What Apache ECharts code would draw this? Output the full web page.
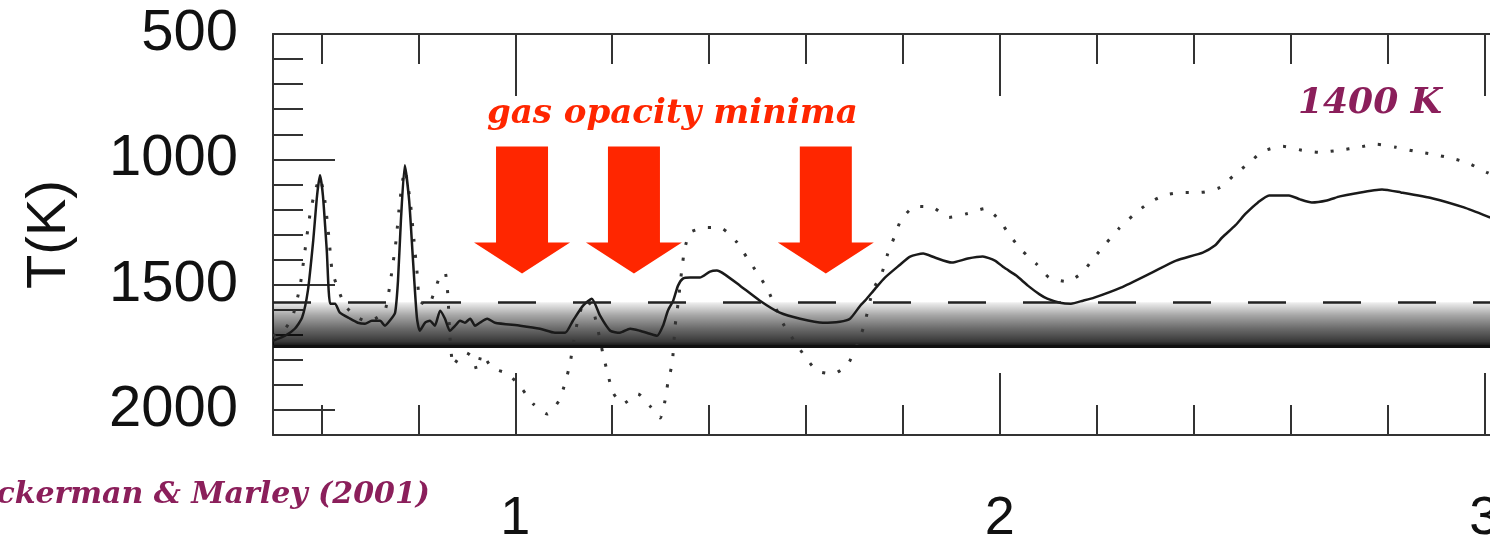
<!DOCTYPE html>
<html>
<head>
<meta charset="utf-8">
<script src="https://cdn.jsdelivr.net/npm/echarts@6/dist/echarts.min.js"></script>
<style>
  html, body { margin: 0; padding: 0; background: #fff; }
  #chart { width: 1490px; height: 539px; }
</style>
</head>
<body>
<div id="chart"></div>
<script>
// wavelength (micron) and temperature (K)
var solidX = [0.5, 0.525, 0.545, 0.56, 0.572, 0.583, 0.591, 0.597, 0.603, 0.611, 0.618, 0.628, 0.638, 0.659, 0.675, 0.69, 0.704, 0.721, 0.731, 0.741, 0.752, 0.758, 0.764, 0.772, 0.781, 0.789, 0.797, 0.803, 0.814, 0.824, 0.834, 0.845, 0.855, 0.865, 0.876, 0.886, 0.896, 0.907, 0.917, 0.927, 0.942, 0.958, 1.01, 1.051, 1.082, 1.103, 1.119, 1.14, 1.158, 1.175, 1.196, 1.216, 1.237, 1.257, 1.278, 1.293, 1.305, 1.315, 1.326, 1.336, 1.346, 1.361, 1.381, 1.402, 1.416, 1.433, 1.464, 1.505, 1.546, 1.588, 1.635, 1.67, 1.691, 1.712, 1.722, 1.743, 1.763, 1.792, 1.815, 1.842, 1.866, 1.901, 1.934, 1.965, 1.99, 2.009, 2.034, 2.058, 2.083, 2.098, 2.124, 2.147, 2.172, 2.195, 2.25, 2.314, 2.364, 2.419, 2.444, 2.459, 2.486, 2.508, 2.533, 2.556, 2.597, 2.62, 2.644, 2.675, 2.702, 2.733, 2.789, 2.828, 2.894, 2.958, 3.012, 3.053];
var solidT = [1724, 1704, 1676, 1632, 1524, 1324, 1144, 1064, 1144, 1364, 1576, 1576, 1612, 1636, 1652, 1656, 1644, 1644, 1664, 1644, 1612, 1484, 1244, 1024, 1164, 1404, 1632, 1684, 1652, 1644, 1664, 1604, 1636, 1684, 1664, 1644, 1652, 1636, 1664, 1652, 1636, 1652, 1664, 1676, 1692, 1692, 1644, 1584, 1556, 1624, 1684, 1692, 1676, 1684, 1696, 1704, 1664, 1604, 1564, 1504, 1476, 1472, 1472, 1448, 1444, 1460, 1504, 1564, 1612, 1636, 1652, 1648, 1636, 1584, 1564, 1516, 1472, 1424, 1388, 1376, 1392, 1412, 1396, 1388, 1404, 1432, 1464, 1504, 1540, 1556, 1572, 1576, 1564, 1552, 1512, 1452, 1404, 1372, 1344, 1312, 1264, 1216, 1172, 1144, 1144, 1160, 1172, 1164, 1148, 1136, 1120, 1132, 1156, 1192, 1232, 1264];

var dottedX = [0.5, 0.525, 0.541, 0.556, 0.566, 0.576, 0.587, 0.597, 0.607, 0.616, 0.622, 0.634, 0.649, 0.669, 0.69, 0.711, 0.731, 0.741, 0.754, 0.762, 0.772, 0.783, 0.791, 0.797, 0.803, 0.82, 0.834, 0.845, 0.855, 0.861, 0.865, 0.872, 0.882, 0.898, 0.913, 0.921, 0.931, 0.952, 0.985, 1.014, 1.037, 1.066, 1.09, 1.103, 1.113, 1.119, 1.129, 1.144, 1.158, 1.171, 1.181, 1.191, 1.202, 1.222, 1.253, 1.278, 1.299, 1.309, 1.315, 1.324, 1.33, 1.336, 1.344, 1.35, 1.361, 1.396, 1.427, 1.458, 1.478, 1.499, 1.52, 1.553, 1.594, 1.623, 1.656, 1.687, 1.718, 1.738, 1.757, 1.769, 1.782, 1.796, 1.825, 1.862, 1.895, 1.934, 1.97, 1.998, 2.021, 2.046, 2.075, 2.102, 2.139, 2.17, 2.195, 2.219, 2.246, 2.275, 2.306, 2.339, 2.378, 2.415, 2.455, 2.483, 2.516, 2.543, 2.584, 2.624, 2.661, 2.7, 2.741, 2.777, 2.818, 2.857, 2.894, 2.933, 2.968, 3.005, 3.052];
var dottedT = [1704, 1676, 1624, 1504, 1364, 1224, 1124, 1076, 1164, 1324, 1444, 1516, 1584, 1624, 1644, 1636, 1604, 1504, 1324, 1164, 1044, 1164, 1324, 1444, 1564, 1584, 1524, 1464, 1452, 1544, 1704, 1824, 1796, 1772, 1792, 1844, 1776, 1832, 1856, 1916, 1976, 2016, 1964, 1892, 1816, 1744, 1644, 1564, 1584, 1684, 1776, 1856, 1932, 1976, 1936, 1984, 2032, 1964, 1892, 1812, 1664, 1576, 1436, 1356, 1292, 1272, 1276, 1332, 1392, 1452, 1516, 1656, 1776, 1844, 1856, 1816, 1676, 1524, 1452, 1376, 1312, 1244, 1188, 1192, 1232, 1216, 1196, 1240, 1304, 1364, 1416, 1472, 1488, 1452, 1392, 1336, 1276, 1224, 1176, 1144, 1132, 1132, 1112, 1064, 1012, 968, 948, 964, 972, 964, 952, 940, 952, 968, 980, 996, 1016, 1052, 1092];

// condensation curve and cloud band
var condenseT = 1570;
var cloudBaseT = 1745;

// the three gas opacity minima arrows
var arrowX = [1.014, 1.245, 1.641];
var arrowT = 1202;

// axis ticks and labels
var xLabels = [1, 2, 3];
var xMinor = [0.6, 0.8, 1.2, 1.4, 1.6, 1.8, 2.2, 2.4, 2.6, 2.8];
var tLabels = [500, 1000, 1500, 2000];
var tMajor = [1000, 1500, 2000];
var tMinor = [600, 700, 800, 900, 1100, 1200, 1300, 1400, 1600, 1700, 1800, 1900];

var X_MIN = 0.5, X_MAX = 3.05, T_MIN = 500, T_MAX = 2100;

var zip = function (xs, ys) {
    var out = [];
    for (var i = 0; i < xs.length; i++) {
        out.push([xs[i], ys[i]]);
    }
    return out;
};

var plain = function (v) { return String(v); };

var tickColor = '#333';
var labelFont = 'Liberation Sans, Arial, sans-serif';
var slabFont = 'DejaVu Serif, serif';

var xAxisBase = function (pos, values, len, withLabel, withLine) {
    return {
        type: 'value',
        position: pos,
        min: X_MIN,
        max: X_MAX,
        splitLine: { show: false },
        axisLine: { show: withLine, onZero: false, lineStyle: { color: '#333', width: 2 } },
        axisTick: {
            show: true, inside: true, length: len, customValues: values,
            lineStyle: { color: tickColor, width: 2 }
        },
        axisLabel: withLabel ? {
            show: true, customValues: xLabels, margin: 57, formatter: plain,
            fontSize: 54, color: '#111', fontFamily: labelFont
        } : { show: false }
    };
};

var chart = echarts.init(document.getElementById('chart'));

var arrowPath = 'path://M22,0 L74,0 L74,96 L96,96 L48,127 L0,96 L22,96 Z';

var option = {
    animation: false,
    backgroundColor: '#fff',
    grid: {
        left: 273,
        top: 34,
        width: (X_MAX - X_MIN) * 484.5,
        bottom: 104,
        containLabel: false,
        outerBoundsMode: 'none'
    },
    xAxis: [
        xAxisBase('bottom', xLabels, 62, true, true),
        xAxisBase('bottom', xMinor, 30, false, false),
        xAxisBase('top', xLabels, 62, false, true),
        xAxisBase('top', xMinor, 30, false, false)
    ],
    yAxis: [
        {
            type: 'value',
            position: 'left',
            inverse: true,
            min: T_MIN,
            max: T_MAX,
            interval: 500,
            name: 'T(K)',
            nameLocation: 'middle',
            nameRotate: 90,
            nameGap: 195,
            nameTextStyle: { fontSize: 56, color: '#111', fontFamily: labelFont },
            splitLine: { show: false },
            axisLine: { show: true, lineStyle: { color: '#333', width: 2 } },
            axisTick: {
                show: true, inside: true, length: 62, customValues: tMajor,
                lineStyle: { color: tickColor, width: 2 }
            },
            axisLabel: {
                customValues: tLabels, margin: 35, formatter: plain,
                fontSize: 58, color: '#111', fontFamily: labelFont
            }
        },
        {
            type: 'value',
            position: 'left',
            inverse: true,
            min: T_MIN,
            max: T_MAX,
            splitLine: { show: false },
            axisLine: { show: false },
            axisTick: {
                show: true, inside: true, length: 30, customValues: tMinor,
                lineStyle: { color: tickColor, width: 2 }
            },
            axisLabel: { show: false }
        }
    ],
    series: [
        {
            // cloud band + condensation curve
            type: 'line',
            data: [],
            silent: true,
            markArea: {
                silent: true,
                itemStyle: {
                    color: {
                        type: 'linear', x: 0, y: 0, x2: 0, y2: 1,
                        colorStops: [
                            { offset: 0, color: 'rgba(0,0,0,0.06)' },
                            { offset: 0.3, color: 'rgba(0,0,0,0.35)' },
                            { offset: 0.6, color: 'rgba(0,0,0,0.58)' },
                            { offset: 0.9, color: 'rgba(0,0,0,0.78)' },
                            { offset: 1, color: 'rgba(0,0,0,0.92)' }
                        ]
                    }
                },
                data: [[{ yAxis: condenseT }, { yAxis: cloudBaseT }]]
            },
            markLine: {
                silent: true,
                symbol: 'none',
                label: { show: false },
                data: [
                    { yAxis: condenseT, lineStyle: { type: [38, 37], width: 2.5, color: '#222' } },
                    { yAxis: cloudBaseT, lineStyle: { type: 'solid', width: 3, color: '#111' } }
                ]
            }
        },
        {
            name: 'dotted',
            type: 'line',
            data: zip(dottedX, dottedT),
            showSymbol: false,
            smooth: 0.2,
            lineStyle: { color: '#333', width: 3, type: [3, 13] },
            z: 3
        },
        {
            name: 'solid',
            type: 'line',
            data: zip(solidX, solidT),
            showSymbol: false,
            smooth: 0.2,
            lineStyle: { color: '#1a1a1a', width: 2.5 },
            z: 4
        },
        {
            name: 'arrows',
            type: 'scatter',
            data: arrowX.map(function (x) { return [x, arrowT]; }),
            symbol: arrowPath,
            symbolSize: [96, 127],
            itemStyle: { color: '#ff2600', opacity: 1 },
            z: 5
        }
    ],
    graphic: [
        {
            type: 'text',
            left: 487,
            top: 97,
            style: {
                text: 'gas opacity minima',
                fill: '#ff2600',
                font: 'italic bold 34px ' + slabFont
            }
        },
        {
            type: 'text',
            left: 1298,
            top: 86,
            style: {
                text: '1400 K',
                fill: '#8b1f5b',
                font: 'italic bold 36px ' + slabFont
            }
        },
        {
            type: 'text',
            right: 1060,
            top: 480,
            style: {
                text: 'Ackerman & Marley (2001)',
                fill: '#8b1f5b',
                font: 'italic bold 30px ' + slabFont
            }
        }
    ]
};

chart.setOption(option);
</script>
</body>
</html>
